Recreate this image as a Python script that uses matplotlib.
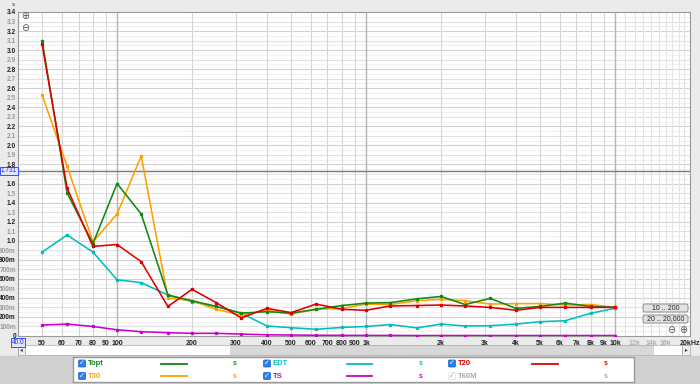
import numpy as np
import matplotlib
matplotlib.use('Agg')
import matplotlib.pyplot as plt
from matplotlib.patches import Rectangle, FancyBboxPatch
from matplotlib.transforms import IdentityTransform

plt.rcParams['font.family'] = ['Liberation Sans', 'DejaVu Sans']

# 1/3 octave bands
freqs = [50, 63, 80, 100, 125, 160, 200, 250, 315, 400, 500, 630, 800,
         1000, 1250, 1600, 2000, 2500, 3150, 4000, 5000, 6300, 8000, 10000]

topt = [3.10, 1.50, 0.97, 1.60, 1.28, 0.43, 0.37, 0.31, 0.24, 0.255, 0.24, 0.28, 0.32,
        0.345, 0.35, 0.39, 0.415, 0.33, 0.395, 0.29, 0.31, 0.345, 0.31, 0.30]
t30 = [2.53, 1.78, 0.99, 1.28, 1.89, 0.40, 0.37, 0.28, 0.22, 0.27, 0.23, 0.28, 0.29,
       0.335, 0.33, 0.37, 0.385, 0.37, 0.335, 0.34, 0.34, 0.325, 0.33, 0.30]
t20 = [3.06, 1.55, 0.94, 0.96, 0.78, 0.31, 0.49, 0.35, 0.19, 0.29, 0.245, 0.335, 0.28,
       0.27, 0.315, 0.32, 0.325, 0.315, 0.30, 0.27, 0.30, 0.30, 0.30, 0.30]
edt = [0.88, 1.06, 0.88, 0.59, 0.56, 0.43, 0.36, 0.31, 0.24, 0.105, 0.087, 0.07, 0.09,
       0.10, 0.12, 0.085, 0.125, 0.105, 0.108, 0.125, 0.15, 0.16, 0.24, 0.29]
ts = [0.115, 0.125, 0.10, 0.065, 0.045, 0.035, 0.028, 0.028, 0.02, 0.013, 0.01, 0.008, 0.007,
      0.006, 0.006, 0.005, 0.005, 0.005, 0.005, 0.005, 0.005, 0.005, 0.005, 0.005]

xtick_vals = [50, 60, 70, 80, 90, 100, 200, 300, 400, 500, 600, 700, 800, 900,
              1000, 2000, 3000, 4000, 5000, 6000, 7000, 8000, 9000, 10000, 12000, 14000, 16000, 20000]
xtick_labels = ['50', '60', '70', '80', '90', '100', '200', '300', '400', '500', '600', '700', '800', '900',
                '1k', '2k', '3k', '4k', '5k', '6k', '7k', '8k', '9k', '10k', '12k', '14k', '16k', '20kHz']

cursor_y = 1.731
cursor_x = 40.0

W, H = 700, 384
PX = IdentityTransform()

def py(y):
    return H - y

fig = plt.figure(figsize=(7, 3.84), dpi=100, facecolor='#ebebeb')
fig.patches.append(Rectangle((0, 0), W, py(356), transform=PX, color='#d0d0d0', zorder=-5))

ax = fig.add_axes([18 / W, 48 / H, 672 / W, 324 / H])
ax.set_xscale('log')
ax.set_xlim(40, 20000)
ax.set_ylim(0, 3.4)
ax.set_facecolor('white')

# grid
for v in np.arange(0.05, 3.4, 0.05):
    k = int(round(v * 20))
    if k % 4 == 0:
        c = '#d2d2d2'
    elif k % 2 == 0:
        c = '#e2e2e2'
    else:
        c = '#f1f1f1'
    ax.axhline(v, color=c, lw=0.8, zorder=0)
for d in [10, 100, 1000]:
    for m in range(2, 10):
        if 40 <= d * m <= 20000:
            ax.axvline(d * m, color='#d6d6d6', lw=0.8, zorder=0)
for m in range(11, 20):
    ax.axvline(m * 1000, color='#e4e4e4', lw=0.8, zorder=0)
for d in [100, 1000, 10000]:
    ax.axvline(d, color='#b4b4b4', lw=1.0, zorder=0)

ax.axhline(cursor_y, color='#7a7a7a', lw=1.0, zorder=1)

series = [
    (ts, '#cc00cc'),
    (edt, '#00bfbf'),
    (t30, '#ffa000'),
    (topt, '#118811'),
    (t20, '#dd0000'),
]
for vals, col in series:
    ax.plot(freqs, vals, color=col, lw=1.15, marker='s', ms=1.4, zorder=3)

ax.set_xticks(xtick_vals)
ax.set_xticklabels(xtick_labels)
ax.xaxis.set_minor_locator(matplotlib.ticker.NullLocator())
yt = np.round(np.arange(0, 3.45, 0.1), 1)
ylab = []
for v in yt:
    if v == 0:
        ylab.append('0')
    elif abs(v - 1.7) < 1e-6:
        ylab.append('')
    elif v < 1:
        ylab.append('%dm' % int(round(v * 1000)))
    else:
        ylab.append('%.1f' % v)
ax.set_yticks(yt)
ax.set_yticklabels(ylab)
ax.tick_params(length=0, labelsize=4.7, pad=1.5)
ax.tick_params(axis='x', pad=3, labelsize=5)
for t in ax.get_xticklabels():
    t.set_fontweight('bold')
    t.set_color('#b0b0b0' if t.get_text() in ('12k', '14k', '16k') else '#222222')
for i, t in enumerate(ax.get_yticklabels()):
    t.set_fontweight('bold')
    t.set_color('#222222' if i % 2 == 0 else '#9a9a9a')
for s in ax.spines.values():
    s.set_color('#9a9a9a')
    s.set_linewidth(0.8)

# cursor readouts
box = dict(boxstyle='square,pad=0.1', fc='#dfe4ff', ec='#3b4dff', lw=0.7)
fig.text(9, py(171), '%.3f' % cursor_y, transform=PX, fontsize=4.7, color='#2030e0',
         ha='center', va='center', bbox=box)
fig.text(18, py(342.5), '%.1f' % cursor_x, transform=PX, fontsize=4.7, color='#2030e0',
         ha='center', va='center', bbox=box)

fig.text(13, py(5), 's', transform=PX, fontsize=4.5, ha='center', va='center', color='#333333')
sym = ['DejaVu Sans']
fig.text(25, py(16), '\u2295', transform=PX, fontsize=7, ha='center', va='center', color='#555555', family=sym)
fig.text(25, py(28), '\u2296', transform=PX, fontsize=7, ha='center', va='center', color='#555555', family=sym)
fig.text(671, py(330), '\u2296', transform=PX, fontsize=7, ha='center', va='center', color='#555555', family=sym)
fig.text(683, py(330), '\u2295', transform=PX, fontsize=7, ha='center', va='center', color='#555555', family=sym)

# range buttons
for (x0, y0, x1, y1, txt) in [(643, 304, 688, 312, '10 .. 200'), (643, 315, 688, 323, '20 .. 20,000')]:
    fig.patches.append(FancyBboxPatch((x0, py(y1)), x1 - x0, y1 - y0, boxstyle='round,pad=0,rounding_size=2',
                                      transform=PX, fc='#e2e2e2', ec='#8c8c8c', lw=0.7, zorder=5))
    fig.text((x0 + x1) / 2, py((y0 + y1) / 2), txt, transform=PX, fontsize=5, ha='center', va='center',
             color='#222222', zorder=6)

# scrollbar
sb = fig.add_axes([18 / W, py(355) / H, 672 / W, 10 / H])
sb.set_xlim(18, 690)
sb.set_ylim(355, 345)
sb.set_xticks([])
sb.set_yticks([])
sb.set_facecolor('#d8d8d8')
sb.add_patch(Rectangle((25, 345), 205, 10, fc='white', ec='none'))
sb.add_patch(Rectangle((654, 345), 28, 10, fc='white', ec='none'))
sb.add_patch(Rectangle((18, 345), 7, 10, fc='#eeeeee', ec='#999999', lw=0.5))
sb.add_patch(Rectangle((682, 345), 8, 10, fc='#eeeeee', ec='#999999', lw=0.5))
sb.text(21.5, 350, '\u25c2', fontsize=4, ha='center', va='center', color='#333333', family=sym)
sb.text(686, 350, '\u25b8', fontsize=4, ha='center', va='center', color='#333333', family=sym)
for s in sb.spines.values():
    s.set_color('#aaaaaa')
    s.set_linewidth(0.5)

# legend panel
lg = fig.add_axes([73 / W, py(382) / H, 561 / W, 25 / H])
lg.set_xlim(73, 634)
lg.set_ylim(382, 357)
lg.set_xticks([])
lg.set_yticks([])
lg.set_facecolor('white')
for s in lg.spines.values():
    s.set_color('#9a9a9a')
    s.set_linewidth(1.0)

cols = [(82, 88, 161, 187, 235), (267, 273, 347, 372, 421), (452, 458, 532, 558, 606)]
rows = [363.5, 376]
entries = [
    ('Topt', '#118811', 0, 0, True),
    ('EDT', '#00bfbf', 1, 0, True),
    ('T20', '#dd0000', 2, 0, True),
    ('T30', '#ffa000', 0, 1, True),
    ('TS', '#cc00cc', 1, 1, True),
    ('T60M', '#aaaaaa', 2, 1, False),
]
for name, col, ci, ri, on in entries:
    cx, lx, l0, l1, sx = cols[ci]
    y = rows[ri]
    if on:
        lg.add_patch(FancyBboxPatch((cx - 3.5, y - 3.5), 7, 7, boxstyle='round,pad=0,rounding_size=1',
                                    fc='#2a7ff0', ec='#1a5fc0', lw=0.5))
        lg.text(cx, y, '\u2713', fontsize=5, color='white', ha='center', va='center', fontweight='bold', family=sym)
        lg.plot([l0, l1], [y, y], color=col, lw=1.3)
    else:
        lg.add_patch(FancyBboxPatch((cx - 3.5, y - 3.5), 7, 7, boxstyle='round,pad=0,rounding_size=1',
                                    fc='white', ec='#dddddd', lw=0.5))
        lg.text(cx, y, '\u2713', fontsize=5, color='#aaaaaa', ha='center', va='center', family=sym)
    lg.text(lx, y, name, fontsize=5.5, color=col, ha='left', va='center', fontweight='bold')
    lg.text(sx, y, 's', fontsize=5, color=col, ha='center', va='center', fontweight='bold')

fig.savefig('out.png', dpi=100, facecolor=fig.get_facecolor())
